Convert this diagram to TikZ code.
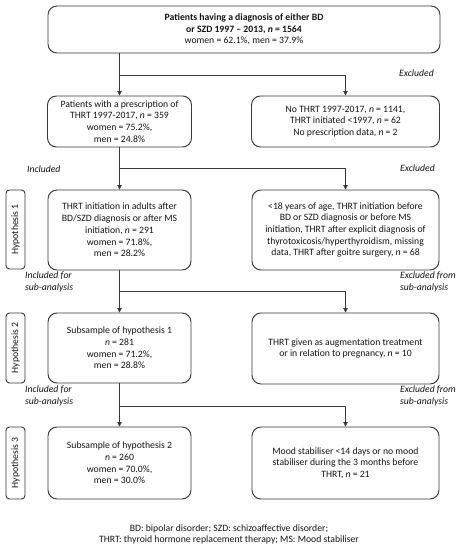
\documentclass[tikz,border=0pt]{standalone}
\usepackage{fontspec}
\setmainfont{Carlito}
\usetikzlibrary{arrows.meta}
\definecolor{linec}{HTML}{383838}
\definecolor{textc}{HTML}{141414}
\begin{document}
\begin{tikzpicture}[x=1pt,y=-1pt,
  every node/.style={text=textc, font=\fontsize{9.7}{11.7}\selectfont},
  box/.style={draw=linec, line width=0.95pt, rounded corners=9pt, align=center, inner sep=0pt},
  hbox/.style={draw=linec, line width=0.95pt, rounded corners=3.5pt, inner sep=0pt, minimum height=19pt, rotate=90},
  conn/.style={draw=linec, line width=0.85pt, -{Triangle[length=4.5pt,width=4.5pt]}},
  lbl/.style={font=\fontsize{9.7}{11.7}\selectfont\itshape, align=left, inner sep=0pt}]
\useasboundingbox (0,0) rectangle (460,550);
\fill[white] (0,0) rectangle (460,550);

% boxes
\node[box, minimum width=392pt, minimum height=47pt] (top) at (244,29.5)
  {\textbf{Patients having a diagnosis of either BD}\\
   \textbf{or SZD 1997 -- 2013, \textit{n} = 1564}\\
   women = 62.1\%, men = 37.9\%};

\node[box, minimum width=144pt, minimum height=51pt] (L2) at (119.5,121.5)
  {Patients with a prescription of\\ THRT 1997-2017, \textit{n} = 359\\ women = 75.2\%,\\ men = 24.8\%};
\node[box, minimum width=188pt, minimum height=51pt] (R2) at (345.5,121.5)
  {No THRT 1997-2017, \textit{n} = 1141,\\ THRT initiated <1997, \textit{n} = 62\\ No prescription data, \textit{n} = 2};

\node[box, minimum width=143pt, minimum height=80pt] (L3) at (119.5,230)
  {THRT initiation in adults after\\ BD/SZD diagnosis or after MS\\ initiation, \textit{n} = 291\\ women = 71.8\%,\\ men = 28.2\%};
\node[box, minimum width=187pt, minimum height=80pt] (R3) at (345.5,230)
  {<18 years of age, THRT initiation before\\ BD or SZD diagnosis or before MS\\ initiation, THRT after explicit diagnosis of\\ thyrotoxicosis/hyperthyroidism, missing\\ data, THRT after goitre surgery, \textit{n} = 68};

\node[box, minimum width=143pt, minimum height=70pt] (L4) at (119.5,348)
  {Subsample of hypothesis 1\\ \textit{n} = 281\\ women = 71.2\%,\\ men = 28.8\%};
\node[box, minimum width=187pt, minimum height=71pt] (R4) at (345.5,348.5)
  {THRT given as augmentation treatment\\ or in relation to pregnancy, \textit{n} = 10};

\node[box, minimum width=143pt, minimum height=72pt] (L5) at (119.5,463)
  {Subsample of hypothesis 2\\ \textit{n} = 260\\ women = 70.0\%,\\ men = 30.0\%};
\node[box, minimum width=187pt, minimum height=72pt] (R5) at (345.5,463)
  {Mood stabiliser <14 days or no mood\\ stabiliser during the 3 months before\\ THRT, \textit{n} = 21};

% hypothesis labels
\node[hbox, minimum width=79pt] (H1) at (15.5,229.5) {Hypothesis 1};
\node[hbox, minimum width=70pt] (H2) at (15.5,348) {Hypothesis 2};
\node[hbox, minimum width=72pt] (H3) at (15.5,463) {Hypothesis 3};

% branch points
\coordinate (b1) at (119.5,75);
\coordinate (b2) at (119.5,168);
\coordinate (b3) at (119.5,291);
\coordinate (b4) at (119.5,406);

% connectors
\draw[conn] (top.south -| L2.north) -- (L2.north);
\draw[conn] (b1) -| (R2.north);
\draw[conn] (L2.south) -- (L3.north);
\draw[conn] (b2) -| (R3.north);
\draw[conn] (L3.south) -- (L4.north);
\draw[conn] (b3) -| (R4.north);
\draw[conn] (L4.south) -- (L5.north);
\draw[conn] (b4) -| (R5.north);

% labels
\node[lbl, anchor=base east] (e1) at (434,76) {Excluded};
\node[lbl, anchor=base west] (i1) at (27,172) {Included};
\node[lbl, anchor=base east] (e2) at (435,171) {Excluded};
\node[lbl, anchor=base west] (i2) at (25,290) {Included for\\sub-analysis};
\node[lbl, anchor=base west] (e3) at (400,290) {Excluded from\\sub-analysis};
\node[lbl, anchor=base west] (i3) at (25,404.5) {Included for\\sub-analysis};
\node[lbl, anchor=base west] (e4) at (400,404.5) {Excluded from\\sub-analysis};

% footer
\node[align=center] (foot) at (229,534.5)
  {BD: bipolar disorder; SZD: schizoaffective disorder;\\ THRT: thyroid hormone replacement therapy; MS: Mood stabiliser};
\end{tikzpicture}
\end{document}
